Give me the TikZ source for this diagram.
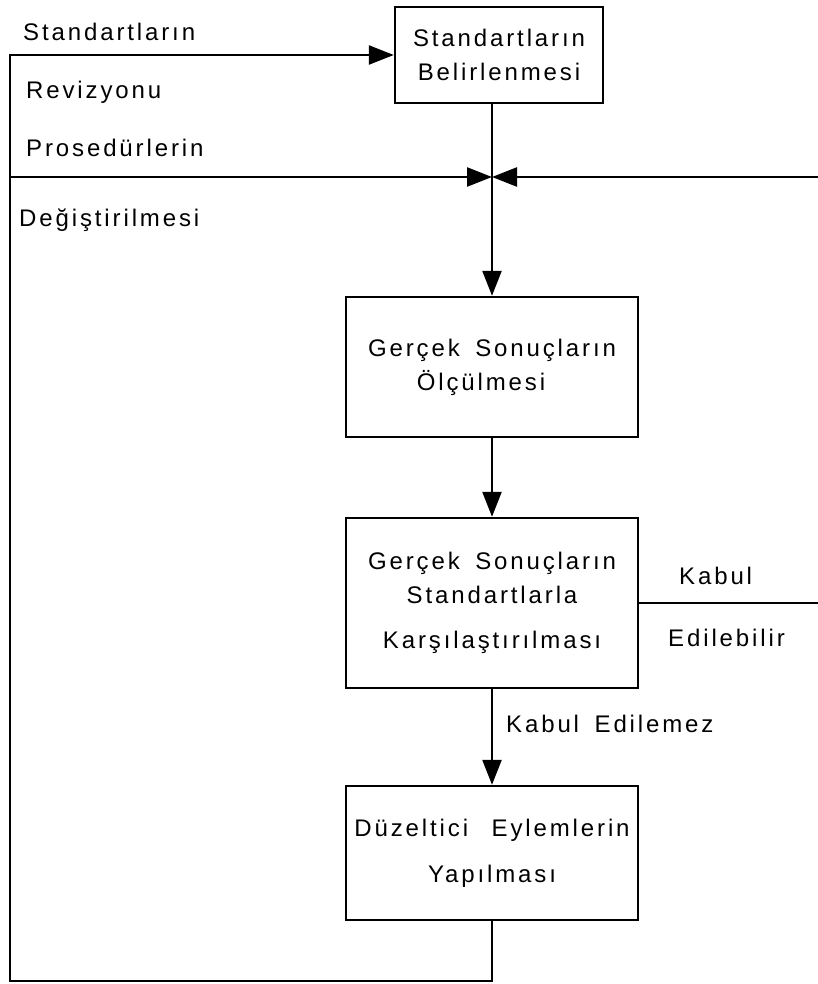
\documentclass[tikz,border=0pt]{standalone}
\usepackage{fontspec}
\setmainfont{Liberation Sans}[LetterSpace=12]
\usetikzlibrary{arrows.meta}
\begin{document}
\begin{tikzpicture}[x=1pt,y=-1pt,line width=2.4pt,
  box/.style={draw,rectangle,align=center,inner sep=0pt,
    font=\fontsize{24}{34}\selectfont},
  lbl/.style={inner sep=0pt,font=\fontsize{24}{29}\selectfont},
  tip/.style={-{Triangle[length=25pt,width=19pt]}}]
\useasboundingbox (0,0) rectangle (818,984);

% process boxes
\node[box,minimum width=208,minimum height=96] (b1) at (499,55)
  {Standartların\\Belirlenmesi};
\node[box,minimum width=292,minimum height=140] (b2) at (492,367)
  {Gerçek\hspace{6pt} Sonuçların\\Ölçülmesi\hspace*{22pt}};
\node[box,minimum width=292,minimum height=170] (b3) at (492,603)
  {Gerçek\hspace{6pt} Sonuçların\\Standartlarla\\[11pt]Karşılaştırılması};
\node[box,minimum width=292,minimum height=134] (b4) at (492,853)
  {Düzeltici\hspace{14pt} Eylemlerin\\[12pt]Yapılması};

% helper points of the connectors
\coordinate (j)  at (492,177);
\coordinate (lw) at (10,177);
\coordinate (re) at (818,177);
\coordinate (tl) at (10,55);
\coordinate (bl) at (10,981);
\coordinate (kr) at (818,603);

% main flow
\draw[tip] (b1.south -| j) -- (b2.north);
\draw[tip] (b2.south) -- (b3.north);
\draw[tip] (b3.south) -- (b4.north);
\draw (b3.east) -- (kr);

% feedback loop and the procedures line
\draw[tip] (b4.south) |- (bl) -- (tl) -- (b1.west);
\draw[tip] (lw) -- (j);
\draw[tip] (re) -- (j);

% labels
\node[lbl,anchor=base west] (s1) at (22,41)  {Standartların};
\node[lbl,anchor=base west] (s2) at (25,99)  {Revizyonu};
\node[lbl,anchor=base west] (s3) at (25,157) {Prosedürlerin};
\node[lbl,anchor=base west] (s4) at (18,226) {Değiştirilmesi};
\node[lbl,anchor=base west] (k1) at (678,584) {Kabul};
\node[lbl,anchor=base west] (k2) at (667,646) {Edilebilir};
\node[lbl,anchor=base west] (k3) at (505,732) {Kabul\hspace{6pt} Edilemez};
\end{tikzpicture}
\end{document}
